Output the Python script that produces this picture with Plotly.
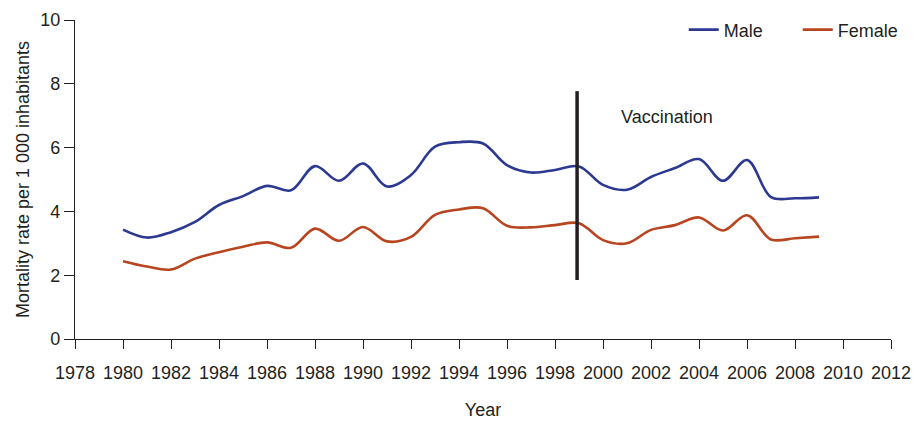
import plotly.graph_objects as go

years = list(range(1980, 2010))
male = [3.43, 3.18, 3.35, 3.67, 4.2, 4.48, 4.8, 4.66, 5.42, 4.96, 5.5, 4.78, 5.14, 6.03, 6.17, 6.13, 5.45, 5.22, 5.3, 5.41,
        4.83, 4.68, 5.08, 5.36, 5.64, 4.96, 5.61, 4.45, 4.41, 4.44]
female = [2.44, 2.27, 2.18, 2.52, 2.72, 2.89, 3.03, 2.86, 3.46, 3.08, 3.51, 3.06, 3.2, 3.89, 4.06, 4.1, 3.55, 3.5, 3.57, 3.63,
          3.1, 3.0, 3.42, 3.57, 3.81, 3.4, 3.88, 3.12, 3.16, 3.21]
vacc_year = 1998.92
vacc_range = [1.85, 7.77]
x_ticks = list(range(1978, 2013, 2))
y_ticks = [0, 2, 4, 6, 8, 10]

FONT = "Liberation Sans Narrow, Arial Narrow, Liberation Sans, Arial, sans-serif"

fig = go.Figure()
fig.add_trace(go.Scatter(x=years, y=male, name="Male", mode="lines",
                         line=dict(color="#2b3990", width=2.6, shape="spline", smoothing=1)))
fig.add_trace(go.Scatter(x=years, y=female, name="Female", mode="lines",
                         line=dict(color="#b7451f", width=2.6, shape="spline", smoothing=1)))
fig.add_trace(go.Scatter(x=[vacc_year, vacc_year], y=vacc_range, mode="lines", showlegend=False,
                         line=dict(color="#231f20", width=3.5)))

fig.add_annotation(x=2002.67, y=6.96, text="Vaccination", showarrow=False,
                   font=dict(size=18, color="#231f20", family=FONT))

fig.update_layout(
    width=913, height=421,
    margin=dict(l=75, r=22, t=20, b=82, autoexpand=False),
    plot_bgcolor="white", paper_bgcolor="white",
    font=dict(family=FONT, color="#231f20", size=18),
    legend=dict(orientation="h", x=0.746, xanchor="left", y=0.969, yanchor="middle",
                font=dict(size=18), itemwidth=30, entrywidth=69, bgcolor="rgba(0,0,0,0)"),
    xaxis=dict(range=[1978, 2012], tickvals=x_ticks, showgrid=False, zeroline=False, automargin=True,
               showline=True, linecolor="#231f20", linewidth=1.2,
               ticks="outside", ticklen=9, tickcolor="#231f20", tickfont=dict(size=18),
               ticklabelstandoff=8,
               title=dict(text="Year", font=dict(size=18), standoff=21)),
    yaxis=dict(range=[0, 10], tickvals=y_ticks, showgrid=False, zeroline=False, automargin=True,
               showline=True, linecolor="#231f20", linewidth=1.2,
               ticks="outside", ticklen=10, tickcolor="#231f20", tickfont=dict(size=18),
               title=dict(text="Mortality rate per 1 000 inhabitants", font=dict(size=18), standoff=5)),
)

fig.write_html("out.html", config={"displayModeBar": False},
               post_script="document.body.style.margin='0';document.body.style.overflow='hidden';")
